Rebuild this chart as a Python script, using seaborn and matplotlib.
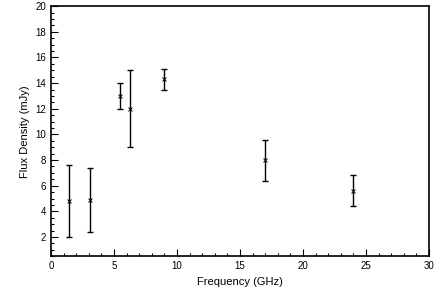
import numpy as np
import pandas as pd
import matplotlib
matplotlib.use("Agg")
import matplotlib.pyplot as plt
import seaborn as sns
from matplotlib.ticker import MultipleLocator

sns.set_style("ticks")
plt.rcParams['font.family'] = ['Liberation Sans', 'DejaVu Sans']
plt.rcParams['text.color'] = 'black'
plt.rcParams['axes.labelcolor'] = 'black'
plt.rcParams['xtick.color'] = 'black'
plt.rcParams['ytick.color'] = 'black'

# measured points
freq = [1.4, 3.1, 5.5, 6.3, 9.0, 17.0, 24.0]
flux = [4.8, 4.9, 13.0, 12.0, 14.3, 8.0, 5.6]
flux_err = [2.8, 2.5, 1.0, 3.0, 0.8, 1.6, 1.2]

df = pd.DataFrame({'freq': freq, 'flux': flux, 'err': flux_err})

fig, ax = plt.subplots(figsize=(4.36, 3.08), dpi=100)
fig.subplots_adjust(left=0.117, right=0.984, top=0.98, bottom=0.168)

ax.errorbar(df['freq'], df['flux'], yerr=df['err'], fmt='none',
            ecolor='black', elinewidth=1.0, capsize=2.5, capthick=1.0, zorder=2)
sns.scatterplot(data=df, x='freq', y='flux', marker='x', color='black',
                s=8, linewidth=0.7, ax=ax, zorder=3)

ax.set_xlim(0, 30)
ax.set_ylim(0.5, 20)
ax.xaxis.set_major_locator(MultipleLocator(5))
ax.xaxis.set_minor_locator(MultipleLocator(1))
ax.yaxis.set_minor_locator(MultipleLocator(0.5))
ax.set_yticks(np.arange(2, 21, 2))

ax.tick_params(which='both', direction='in', top=False, right=False,
               labelsize=7, width=0.8)
ax.tick_params(which='major', length=5)
ax.tick_params(which='minor', length=2.5)
for s in ax.spines.values():
    s.set_linewidth(1.2)
    s.set_color('black')

ax.set_xlabel('Frequency (GHz)', fontsize=8)
ax.set_ylabel('Flux Density (mJy)', fontsize=8)

plt.savefig('out.png', dpi=100)
